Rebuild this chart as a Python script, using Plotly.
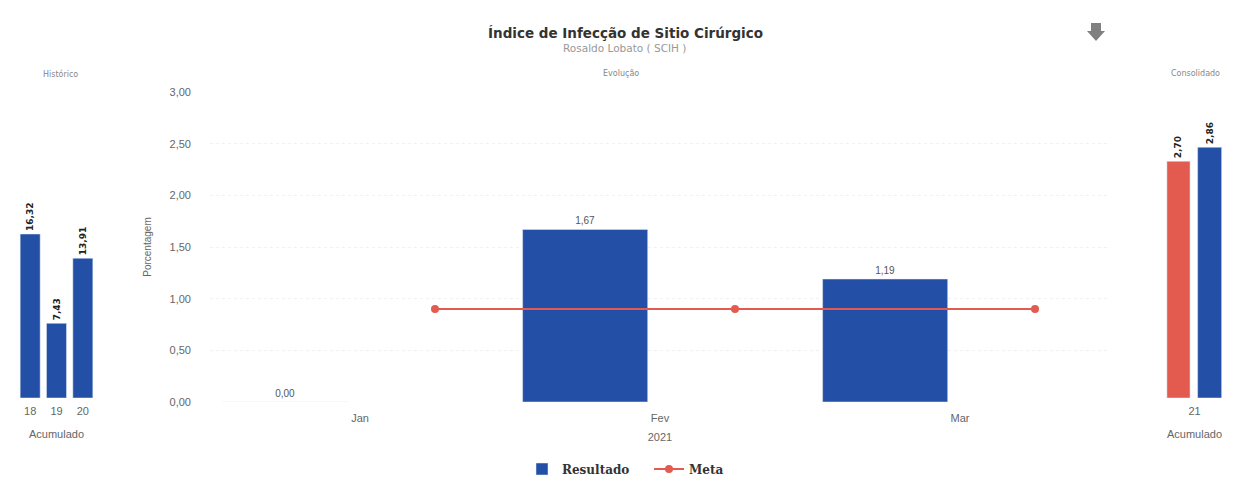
import plotly.graph_objects as go

# ---------------- data ----------------
hist_anos = ["18", "19", "20"]
hist_vals = [16.32, 7.43, 13.91]

meses = ["Jan", "Fev", "Mar"]
resultado = [0.00, 1.67, 1.19]
meta = [0.90, 0.90, 0.90]

consol_cat = ["21"]
consol_meta = [2.70]
consol_res = [2.86]

y_ticks = [0, 0.5, 1.0, 1.5, 2.0, 2.5, 3.0]

# ---------------- helpers ----------------
W, H = 1239, 498
OFF = 8  # page body margin
def px(x):
    return (x - OFF) / W
def py(y):
    return 1 - (y - OFF) / H

BLUE = "#2350a6"
RED = "#e35a4f"
GRAY = "#666666"

lbl_font = dict(size=9, color="#222", family="DejaVu Sans", weight="bold")

fig = go.Figure()

# Histórico (left)
fig.add_trace(go.Bar(
    x=hist_anos, y=hist_vals, marker_color=BLUE, width=0.76,
    texttemplate="%{y:.2f}", textposition="outside", textangle=-90,
    textfont=lbl_font, constraintext="none",
    cliponaxis=False, showlegend=False, xaxis="x2", yaxis="y2",
))

# Evolução (main)
x_idx = list(range(len(meses)))
fig.add_trace(go.Bar(
    x=x_idx, y=resultado, name="Resultado", marker_color=BLUE,
    offset=-0.458, width=0.417,
    texttemplate="%{y:.2f}", textposition="outside", constraintext="none",
    textfont=dict(size=10, color="#555"), cliponaxis=False,
    xaxis="x", yaxis="y",
))
fig.add_trace(go.Scatter(
    x=[i + 0.25 for i in x_idx], y=meta, name="Meta", mode="lines+markers",
    line=dict(color=RED, width=2), marker=dict(color=RED, size=8),
    xaxis="x", yaxis="y",
))

# Consolidado (right)
fig.add_trace(go.Bar(
    x=consol_cat, y=consol_meta, marker_color=RED, offset=-0.31, width=0.26,
    texttemplate="%{y:.2f}", textposition="outside", textangle=-90,
    textfont=lbl_font, constraintext="none",
    cliponaxis=False, showlegend=False, xaxis="x3", yaxis="y3",
))
fig.add_trace(go.Bar(
    x=consol_cat, y=consol_res, marker_color=BLUE, offset=0.035, width=0.27,
    texttemplate="%{y:.2f}", textposition="outside", textangle=-90,
    textfont=lbl_font, constraintext="none",
    cliponaxis=False, showlegend=False, xaxis="x3", yaxis="y3",
))

tickfont = dict(size=11, color=GRAY, family="Liberation Sans")

fig.update_layout(
    width=W, height=H, autosize=False,
    margin=dict(l=0, r=0, t=0, b=0, autoexpand=False),
    paper_bgcolor="white", plot_bgcolor="white",
    separators=",.",
    barmode="overlay",
    font=dict(family="Liberation Sans", color=GRAY),
    xaxis=dict(
        domain=[px(210), px(1110)], anchor="y", automargin=False,
        range=[-0.5, len(meses) - 0.5], tickvals=x_idx, ticktext=meses,
        showgrid=False, zeroline=False, showline=False, ticks="",
        tickfont=tickfont, ticklabelstandoff=8,
        title=dict(text="2021", font=dict(size=11, color=GRAY), standoff=10),
    ),
    yaxis=dict(
        domain=[py(402), py(92)], anchor="x", automargin=False,
        range=[0, 3], tickvals=y_ticks, tickformat=".2f",
        showgrid=True, gridcolor="#f1f1f1", griddash="dot", zeroline=False,
        ticklabelstandoff=18, tickfont=tickfont,
        title=dict(text="Porcentagem", font=dict(size=10, color=GRAY), standoff=16),
    ),
    xaxis2=dict(
        domain=[px(17), px(96)], anchor="y2", type="category", automargin=False,
        showgrid=False, zeroline=False, showline=False, ticks="",
        tickfont=tickfont, ticklabelstandoff=5,
        title=dict(text="Acumulado", font=dict(size=11, color=GRAY), standoff=14),
    ),
    yaxis2=dict(
        domain=[py(398), py(92)], anchor="x2", range=[0, 30.45],
        visible=False, automargin=False,
    ),
    xaxis3=dict(
        domain=[px(1150), px(1239)], anchor="y3", type="category", automargin=False,
        showgrid=False, zeroline=False, showline=False, ticks="",
        tickfont=tickfont, ticklabelstandoff=5,
        title=dict(text="Acumulado", font=dict(size=11, color=GRAY), standoff=14),
    ),
    yaxis3=dict(
        domain=[py(398), py(92)], anchor="x3", range=[0, 3.49],
        visible=False, automargin=False,
    ),
    legend=dict(
        orientation="h", x=px(522), y=py(469), xanchor="left", yanchor="middle",
        font=dict(family="DejaVu Serif", size=12, color="#333", weight="bold"),
        itemwidth=30, entrywidth=82, entrywidthmode="pixels",
    ),
)

annotations = [
    dict(text="<b>Índice de Infecção de Sitio Cirúrgico</b>", x=px(625), y=py(33),
         font=dict(size=13.5, color="#333", family="DejaVu Sans")),
    dict(text="Rosaldo Lobato ( SCIH )", x=px(624), y=py(48),
         font=dict(size=10.5, color="#999", family="DejaVu Sans")),
    dict(text="Histórico", x=px(60), y=py(74), font=dict(size=8, color="#888", family="DejaVu Sans")),
    dict(text="Evolução", x=px(621), y=py(74), font=dict(size=8, color="#888", family="DejaVu Sans")),
    dict(text="Consolidado", x=px(1195), y=py(74), font=dict(size=8, color="#888", family="DejaVu Sans")),
]
for a in annotations:
    a.update(xref="paper", yref="paper", showarrow=False, xanchor="center", yanchor="middle")
fig.update_layout(annotations=annotations)

# download arrow icon
arrow = (f"M {px(1091)} {py(23)} L {px(1101)} {py(23)} L {px(1101)} {py(31)} "
         f"L {px(1105)} {py(31)} L {px(1096)} {py(41)} L {px(1087)} {py(31)} "
         f"L {px(1091)} {py(31)} Z")
fig.add_shape(type="path", path=arrow, xref="paper", yref="paper",
              fillcolor="#808080", line=dict(width=0))

fig.write_html("out.html")
